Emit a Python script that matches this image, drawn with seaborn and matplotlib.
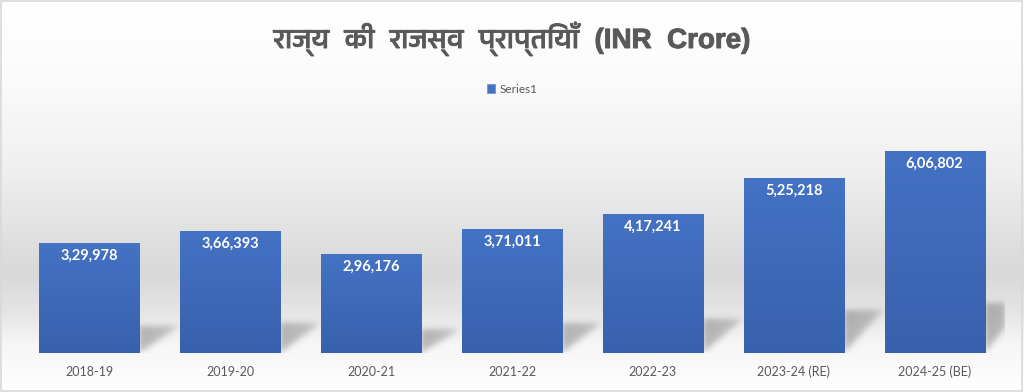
import numpy as np
import pandas as pd
import matplotlib
matplotlib.use("Agg")
import matplotlib.pyplot as plt
import matplotlib.patheffects as pe
from matplotlib import font_manager
from matplotlib.patches import Rectangle
import seaborn as sns

# chart data
years = ["2018-19", "2019-20", "2020-21", "2021-22", "2022-23", "2023-24 (RE)", "2024-25 (BE)"]
receipts = [329978, 366393, 296176, 371011, 417241, 525218, 606802]
value_labels = ["3,29,978", "3,66,393", "2,96,176", "3,71,011", "4,17,241", "5,25,218", "6,06,802"]
title = "राज्य  की  राजस्व  प्राप्तियाँ  (INR  Crore)"
series_name = "Series1"

df = pd.DataFrame({"year": years, "value": receipts})

sns.set_style("white")

# look for any font with Devanagari glyphs; Latin letters come from Liberation Sans
deva = [f.name for f in font_manager.fontManager.ttflist
        if "devanagari" in f.name.lower() or "devanagari" in f.fname.lower()
        or "lohit" in f.fname.lower() or "mangal" in f.fname.lower()]
title_family = ["Liberation Sans"] + list(dict.fromkeys(deva)) + ["DejaVu Sans"]
plt.rcParams["font.family"] = ["Lato", "DejaVu Sans"]

W, H = 1024, 392
fig = plt.figure(figsize=(W / 100, H / 100), dpi=100)

# background gradient (white -> grey -> white), like the office chart style
bg = fig.add_axes([0, 0, 1, 1], zorder=0)
ys = np.linspace(0, 1, H)
stops_y = [0.0, 0.20, 0.45, 0.60, 0.70, 0.80, 0.88, 1.0]
stops_c = [1.0, 0.985, 0.935, 0.88, 0.85, 0.90, 0.965, 1.0]
shade = np.interp(ys, stops_y, stops_c)
img = np.repeat(shade[:, None], 2, axis=1)
bg.imshow(np.dstack([img, img, img]), aspect="auto", extent=[0, 1, 1, 0])
bg.set_xlim(0, 1)
bg.set_ylim(1, 0)
bg.axis("off")
bg.add_patch(Rectangle((0.001, 0.002), 0.997, 0.995, fill=False,
                       edgecolor="#d9d9d9", lw=1.2))

ax_left, ax_bottom, ax_w, ax_h = 19, 39, 986, 254
ax = fig.add_axes([ax_left / W, ax_bottom / H, ax_w / W, ax_h / H], zorder=1)
ax.patch.set_alpha(0)

sns.barplot(data=df, x="year", y="value", color="#4472c4", width=0.71,
            saturation=1, ax=ax, label=series_name)
ymax = 762000
ax.set_ylim(0, ymax)
ax.set_xlim(-0.5, len(years) - 0.5)

# soft cast shadows: triangle to the right of each bar, blurred
xs_px = np.arange(ax_w)
ys_px = np.arange(ax_h)
XX = -0.5 + (xs_px[None, :] + 0.5) / ax_w * len(years)
YY = (ys_px[:, None] + 0.5) / ax_h * ymax
mask = np.zeros((ax_h, ax_w))
dx = 0.28
k = 0.245
for bar in ax.patches:
    xr = bar.get_x() + bar.get_width()
    top = k * bar.get_height()
    t = (XX - xr) / dx
    inside = (t >= 0) & (t <= 1) & (YY <= top) & (YY >= t * top)
    mask = np.maximum(mask, inside * (1 - 0.3 * t))


def blur(a, sigma):
    r = int(3 * sigma)
    kern = np.exp(-0.5 * (np.arange(-r, r + 1) / sigma) ** 2)
    kern /= kern.sum()
    a = np.apply_along_axis(lambda m: np.convolve(m, kern, mode="same"), 1, a)
    a = np.apply_along_axis(lambda m: np.convolve(m, kern, mode="same"), 0, a)
    return a


mask = blur(mask, 3.0)
shadow = np.zeros((ax_h, ax_w, 4))
shadow[..., :3] = 0.3
shadow[..., 3] = mask * 0.38
ax.imshow(shadow, origin="lower", aspect="auto", zorder=1,
          extent=[-0.5, len(years) - 0.5, 0, ymax], interpolation="bilinear")

# gradient fill on each bar
grad = np.linspace(0, 1, 100)
top_c = np.array([0x44, 0x72, 0xc4]) / 255
bot_c = np.array([0x38, 0x61, 0xad]) / 255
blues = (top_c[None, :] + (bot_c - top_c)[None, :] * grad[:, None])[:, None, :]
for bar in ax.patches:
    x0 = bar.get_x()
    w = bar.get_width()
    h = bar.get_height()
    bar.set_zorder(2)
    bar.set_edgecolor("#7095d6")
    bar.set_linewidth(0.6)
    im = ax.imshow(blues, aspect="auto", extent=[x0, x0 + w, 0, h], zorder=2)
    im.set_clip_path(bar)

ax.set_ylim(0, ymax)
ax.set_xlim(-0.5, len(years) - 0.5)

for i, (v, lab) in enumerate(zip(receipts, value_labels)):
    ax.text(i, v - 17000, lab, ha="center", va="top", color="white",
            fontsize=10.5, fontweight="bold", zorder=3)

ax.set_xlabel("")
ax.set_ylabel("")
ax.set_yticks([])
ax.tick_params(axis="x", length=0, pad=9, labelsize=9, labelcolor="#595959")
for s in ax.spines.values():
    s.set_visible(False)

fig.text(0.5, 1 - 48 / H, title, ha="center", va="baseline", fontsize=20,
         fontweight="bold", color="#595959", family=title_family,
         path_effects=[pe.withStroke(linewidth=0.7, foreground="#595959")])

# legend above the plot
leg_y = (H - 73 - ax_bottom) / ax_h
ax.legend(loc="upper center", bbox_to_anchor=(0.5, leg_y),
          frameon=False, fontsize=8.5, handlelength=0.7, handleheight=0.7,
          handletextpad=0.4, labelcolor="#595959")

fig.savefig("out.png", dpi=100)
